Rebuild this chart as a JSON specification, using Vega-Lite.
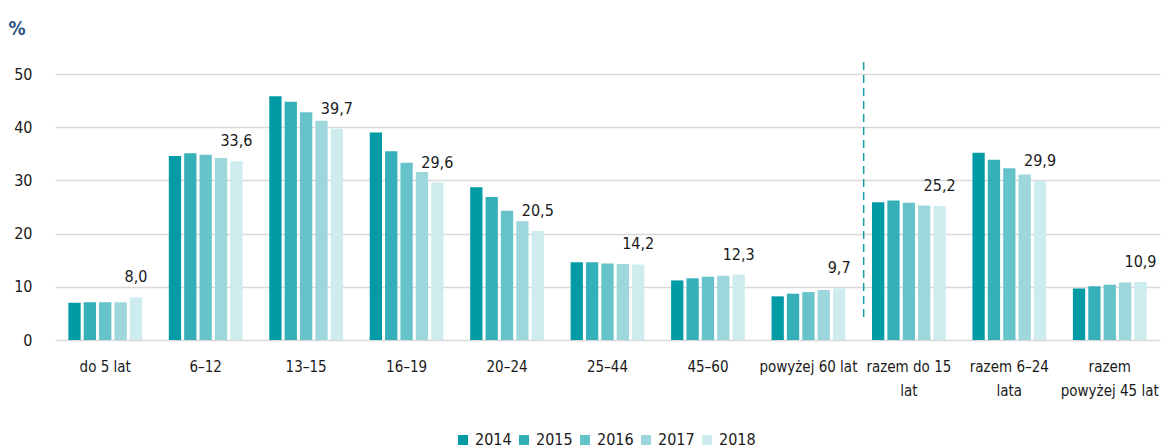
{
  "$schema": "https://vega.github.io/schema/vega-lite/v6.json",
  "width": 1105,
  "height": 266,
  "autosize": "none",
  "padding": {"left": 55, "top": 74, "right": 2, "bottom": 108},
  "datasets": {
    "bars": [
      {"cat": "do 5 lat", "year": "2014", "value": 7.0},
      {"cat": "do 5 lat", "year": "2015", "value": 7.1},
      {"cat": "do 5 lat", "year": "2016", "value": 7.1},
      {"cat": "do 5 lat", "year": "2017", "value": 7.1},
      {"cat": "do 5 lat", "year": "2018", "value": 8.0},
      {"cat": "6–12", "year": "2014", "value": 34.6},
      {"cat": "6–12", "year": "2015", "value": 35.1},
      {"cat": "6–12", "year": "2016", "value": 34.8},
      {"cat": "6–12", "year": "2017", "value": 34.2},
      {"cat": "6–12", "year": "2018", "value": 33.6},
      {"cat": "13–15", "year": "2014", "value": 45.8},
      {"cat": "13–15", "year": "2015", "value": 44.8},
      {"cat": "13–15", "year": "2016", "value": 42.8},
      {"cat": "13–15", "year": "2017", "value": 41.2},
      {"cat": "13–15", "year": "2018", "value": 39.7},
      {"cat": "16–19", "year": "2014", "value": 39.0},
      {"cat": "16–19", "year": "2015", "value": 35.5},
      {"cat": "16–19", "year": "2016", "value": 33.3},
      {"cat": "16–19", "year": "2017", "value": 31.6},
      {"cat": "16–19", "year": "2018", "value": 29.6},
      {"cat": "20–24", "year": "2014", "value": 28.7},
      {"cat": "20–24", "year": "2015", "value": 26.9},
      {"cat": "20–24", "year": "2016", "value": 24.3},
      {"cat": "20–24", "year": "2017", "value": 22.3},
      {"cat": "20–24", "year": "2018", "value": 20.5},
      {"cat": "25–44", "year": "2014", "value": 14.6},
      {"cat": "25–44", "year": "2015", "value": 14.6},
      {"cat": "25–44", "year": "2016", "value": 14.4},
      {"cat": "25–44", "year": "2017", "value": 14.3},
      {"cat": "25–44", "year": "2018", "value": 14.2},
      {"cat": "45–60", "year": "2014", "value": 11.2},
      {"cat": "45–60", "year": "2015", "value": 11.6},
      {"cat": "45–60", "year": "2016", "value": 11.9},
      {"cat": "45–60", "year": "2017", "value": 12.1},
      {"cat": "45–60", "year": "2018", "value": 12.3},
      {"cat": "powyżej 60 lat", "year": "2014", "value": 8.2},
      {"cat": "powyżej 60 lat", "year": "2015", "value": 8.7},
      {"cat": "powyżej 60 lat", "year": "2016", "value": 9.0},
      {"cat": "powyżej 60 lat", "year": "2017", "value": 9.4},
      {"cat": "powyżej 60 lat", "year": "2018", "value": 9.7},
      {"cat": "razem do 15 lat", "year": "2014", "value": 25.9},
      {"cat": "razem do 15 lat", "year": "2015", "value": 26.2},
      {"cat": "razem do 15 lat", "year": "2016", "value": 25.8},
      {"cat": "razem do 15 lat", "year": "2017", "value": 25.3},
      {"cat": "razem do 15 lat", "year": "2018", "value": 25.2},
      {"cat": "razem 6–24 lata", "year": "2014", "value": 35.2},
      {"cat": "razem 6–24 lata", "year": "2015", "value": 33.9},
      {"cat": "razem 6–24 lata", "year": "2016", "value": 32.3},
      {"cat": "razem 6–24 lata", "year": "2017", "value": 31.1},
      {"cat": "razem 6–24 lata", "year": "2018", "value": 29.9},
      {"cat": "razem powyżej 45 lat", "year": "2014", "value": 9.7},
      {"cat": "razem powyżej 45 lat", "year": "2015", "value": 10.1},
      {"cat": "razem powyżej 45 lat", "year": "2016", "value": 10.4},
      {"cat": "razem powyżej 45 lat", "year": "2017", "value": 10.8},
      {"cat": "razem powyżej 45 lat", "year": "2018", "value": 10.9}
    ],
    "divider": [
      {"cat": "razem do 15 lat", "y1": 4.3, "y2": 53.2}
    ]
  },
  "layer": [
    {
      "data": {"name": "bars"},
      "mark": {"type": "bar"},
      "encoding": {
        "x": {
          "field": "cat",
          "type": "nominal",
          "sort": ["do 5 lat", "6–12", "13–15", "16–19", "20–24", "25–44", "45–60", "powyżej 60 lat", "razem do 15 lat", "razem 6–24 lata", "razem powyżej 45 lat"],
          "scale": {"paddingInner": 0, "paddingOuter": 0},
          "axis": {
            "title": null,
            "ticks": false,
            "domain": false,
            "labelAngle": 0,
            "labelFontSize": 15,
            "labelColor": "#1a1a1a",
            "labelPadding": 19,
            "labelBaseline": "top",
            "labelLineHeight": 24,
            "labelLimit": 200,
            "labelExpr": "datum.value == 'razem do 15 lat' ? ['razem do 15', 'lat'] : datum.value == 'razem 6–24 lata' ? ['razem 6–24', 'lata'] : datum.value == 'razem powyżej 45 lat' ? ['razem', 'powyżej 45 lat'] : datum.label"
          }
        },
        "xOffset": {
          "field": "year",
          "type": "nominal",
          "scale": {"paddingInner": 0.2, "paddingOuter": 0.87}
        },
        "y": {
          "field": "value",
          "type": "quantitative",
          "scale": {"domain": [0, 50], "nice": false},
          "axis": {
            "title": "%",
            "titleAngle": 0,
            "titleX": -47,
            "titleY": -40,
            "titleAlign": "left",
            "titleBaseline": "alphabetic",
            "titleFontSize": 19,
            "titleFontWeight": "bold",
            "titleColor": "#2b5383",
            "values": [0, 10, 20, 30, 40, 50],
            "ticks": false,
            "domain": false,
            "labelFontSize": 16,
            "labelColor": "#1a1a1a",
            "labelPadding": 23,
            "gridColor": "#d9d9d9",
            "gridWidth": 1.6
          }
        },
        "color": {
          "field": "year",
          "type": "nominal",
          "scale": {
            "domain": ["2014", "2015", "2016", "2017", "2018"],
            "range": ["#009ba5", "#35b0b9", "#67c3ca", "#9dd7dc", "#ceecee"]
          },
          "legend": {
            "title": null,
            "orient": "none",
            "direction": "horizontal",
            "legendX": 400,
            "legendY": 358,
            "symbolType": "square",
            "symbolSize": 100,
            "symbolStrokeWidth": 0,
            "labelFontSize": 16,
            "labelColor": "#1a1a1a",
            "labelOffset": 4,
            "columnPadding": 4
          }
        }
      }
    },
    {
      "data": {"name": "bars"},
      "transform": [{"filter": "datum.year == '2018'"}],
      "mark": {"type": "text", "baseline": "alphabetic", "dy": -15, "fontSize": 16, "color": "#1a1a1a"},
      "encoding": {
        "x": {"field": "cat", "type": "nominal", "sort": ["do 5 lat", "6–12", "13–15", "16–19", "20–24", "25–44", "45–60", "powyżej 60 lat", "razem do 15 lat", "razem 6–24 lata", "razem powyżej 45 lat"]},
        "xOffset": {"field": "year", "type": "nominal"},
        "y": {"field": "value", "type": "quantitative"},
        "text": {"field": "value", "type": "quantitative", "format": ".1f"}
      }
    },
    {
      "data": {"name": "divider"},
      "mark": {"type": "rule", "color": "#1a9ba6", "strokeWidth": 1.5, "strokeDash": [8, 5], "clip": false},
      "encoding": {
        "x": {"field": "cat", "type": "nominal", "bandPosition": 0.05, "sort": ["do 5 lat", "6–12", "13–15", "16–19", "20–24", "25–44", "45–60", "powyżej 60 lat", "razem do 15 lat", "razem 6–24 lata", "razem powyżej 45 lat"]},
        "y": {"field": "y1", "type": "quantitative"},
        "y2": {"field": "y2"}
      }
    }
  ],
  "config": {
    "view": {"stroke": null},
    "font": "'DejaVu Sans Condensed', 'Liberation Sans Narrow', 'Liberation Sans', sans-serif",
    "locale": {"number": {"decimal": ",", "thousands": " ", "grouping": [3], "currency": ["", " zł"]}}
  }
}
